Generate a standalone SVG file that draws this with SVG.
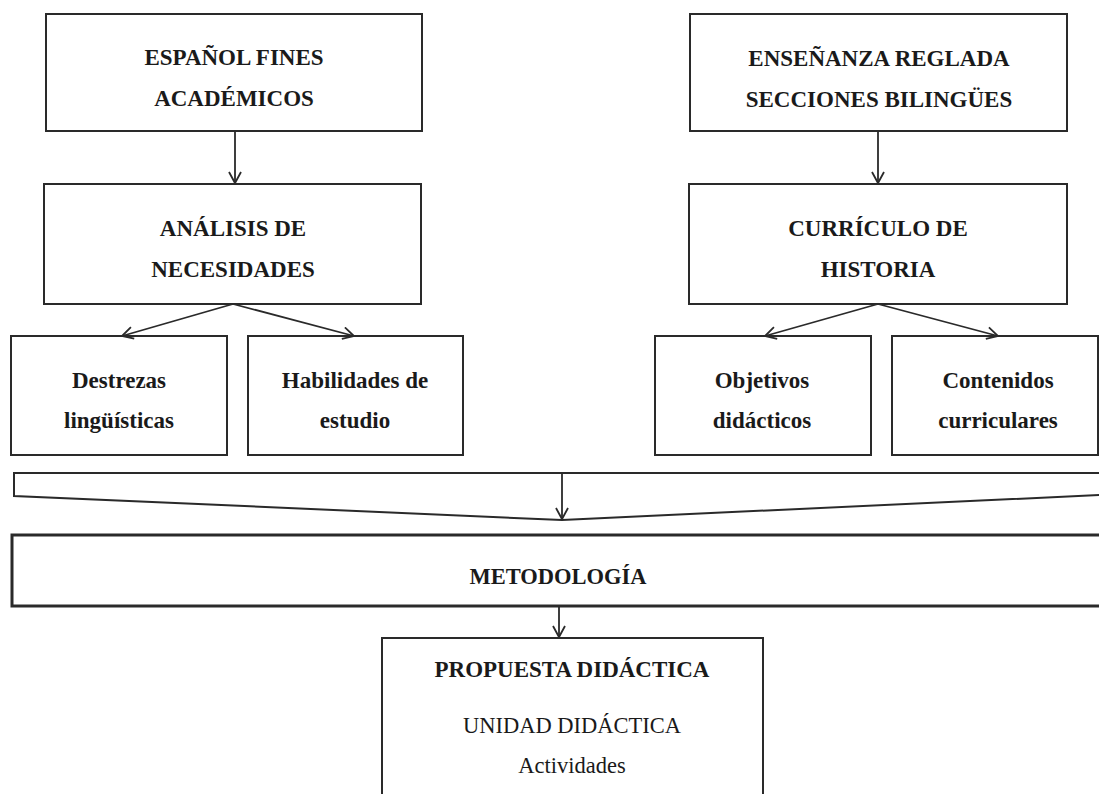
<svg xmlns="http://www.w3.org/2000/svg" width="1099" height="794" viewBox="0 0 1099 794">
<style>
.box{fill:#fff;stroke:#2a2a2a;stroke-width:2}
.thick{fill:#fff;stroke:#2a2a2a;stroke-width:3}
.t{font-family:"Liberation Serif","Times New Roman",serif;font-size:23px;fill:#1a1a1a;text-anchor:middle}
.s{font-size:22.5px}
.b{font-weight:bold}
.c{fill:none;stroke:#2a2a2a;stroke-width:1.8}
</style>
<defs>
<marker id="ah" viewBox="0 0 14 14" refX="12" refY="7" markerWidth="14" markerHeight="14" markerUnits="userSpaceOnUse" orient="auto">
<path d="M1,1 L12,7 L1,13" fill="none" stroke="#2a2a2a" stroke-width="1.8"/>
</marker>
</defs>
<rect width="1099" height="794" fill="#fff"/>
<g id="n-espanol"><rect class="box" x="46" y="14" width="376" height="117"/><text class="t b" x="234" y="65">ESPAÑOL FINES</text><text class="t b" x="234" y="106">ACADÉMICOS</text></g>
<g id="n-ensenanza"><rect class="box" x="690" y="14" width="377" height="117"/><text class="t b" x="879" y="66">ENSEÑANZA REGLADA</text><text class="t b" x="879" y="107">SECCIONES BILINGÜES</text></g>
<g id="n-analisis"><rect class="box" x="44" y="184" width="377" height="120"/><text class="t b" x="233" y="236">ANÁLISIS DE</text><text class="t b" x="233" y="277">NECESIDADES</text></g>
<g id="n-curriculo"><rect class="box" x="689" y="184" width="378" height="120"/><text class="t b" x="878" y="236">CURRÍCULO DE</text><text class="t b" x="878" y="277">HISTORIA</text></g>
<g id="n-destrezas"><rect class="box" x="11" y="336" width="216" height="119"/><text class="t b" x="119" y="388">Destrezas</text><text class="t b" x="119" y="428">lingüísticas</text></g>
<g id="n-habilidades"><rect class="box" x="248" y="336" width="215" height="119"/><text class="t b" x="355" y="388">Habilidades de</text><text class="t b" x="355" y="428">estudio</text></g>
<g id="n-objetivos"><rect class="box" x="655" y="336" width="216" height="119"/><text class="t b" x="762" y="388">Objetivos</text><text class="t b" x="762" y="428">didácticos</text></g>
<g id="n-contenidos"><rect class="box" x="892" y="336" width="206" height="119"/><text class="t b" x="998" y="388">Contenidos</text><text class="t b" x="998" y="428">curriculares</text></g>
<g id="n-funnel"><path class="box" d="M1100,473 L14,473 L14,496 L562,520 L1100,495"/></g>
<g id="n-metodologia"><rect class="thick" x="12" y="535" width="1092" height="71"/><text class="t b s" x="558" y="584">METODOLOGÍA</text></g>
<g id="n-propuesta"><rect class="box" x="382" y="638" width="381" height="170"/><text class="t b" x="572" y="677">PROPUESTA DIDÁCTICA</text><text class="t s" x="572" y="733">UNIDAD DIDÁCTICA</text><text class="t s" x="572" y="773">Actividades</text></g>
<g id="connectors">
<line class="c" x1="235" y1="131" x2="235" y2="183" marker-end="url(#ah)"/>
<line class="c" x1="878" y1="131" x2="878" y2="183" marker-end="url(#ah)"/>
<line class="c" x1="233" y1="304" x2="122" y2="336" marker-end="url(#ah)"/>
<line class="c" x1="233" y1="304" x2="354" y2="336" marker-end="url(#ah)"/>
<line class="c" x1="878" y1="304" x2="765" y2="336" marker-end="url(#ah)"/>
<line class="c" x1="878" y1="304" x2="998" y2="336" marker-end="url(#ah)"/>
<line class="c" x1="562" y1="473" x2="562" y2="519" marker-end="url(#ah)"/>
<line class="c" x1="559" y1="606" x2="559" y2="637" marker-end="url(#ah)"/>
</g>
</svg>
